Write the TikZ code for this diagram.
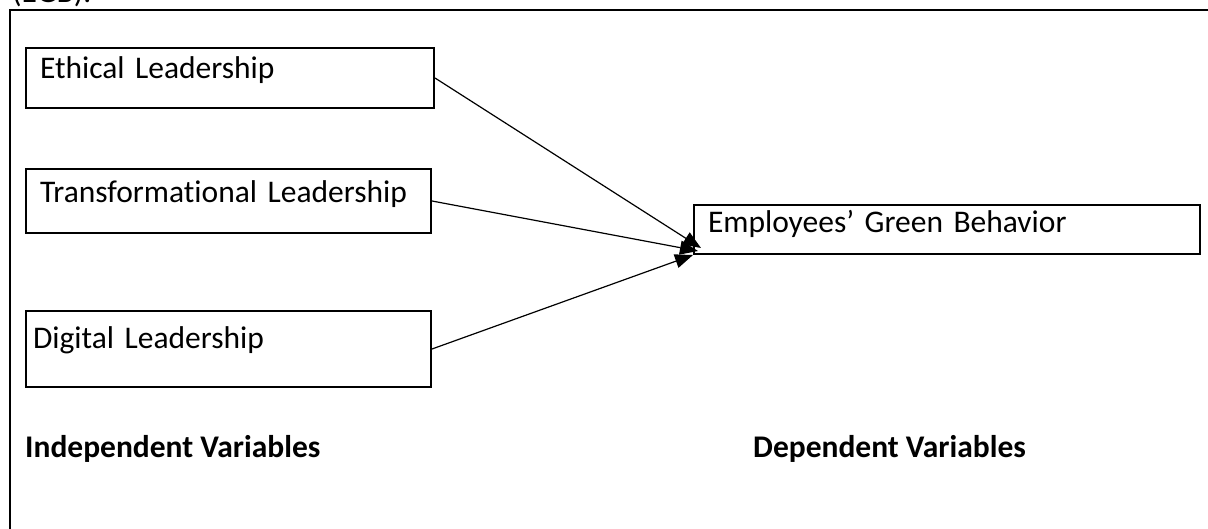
\documentclass[tikz,border=0pt]{standalone}
\usepackage{fontspec}
\setmainfont{Carlito}[Ligatures={NoCommon}]
\usetikzlibrary{arrows.meta,calc}

\begin{document}
\begin{tikzpicture}[x=1pt, y=-1pt,
	every node/.style={font=\fontsize{31.5}{38}\selectfont},
	varbox/.style={draw, line width=2pt, anchor=north west, align=left, inner ysep=0pt, inner xsep=14pt},
	link/.style={line width=1.2pt, -{Triangle[length=18pt,width=14pt]}},
	heading/.style={anchor=base west, inner sep=0pt, font=\fontsize{31.5}{38}\selectfont\bfseries}]
	\useasboundingbox (0,0) rectangle (1208,529);
	\clip (0,0) rectangle (1208,529);
	
	\node[anchor=base west, inner sep=0pt] (egbcap) at (12,3) {(EGB).};
	\draw[line width=2.5pt] (10,540) -- (10,10) -- (1220,10);
	
	\node[varbox, text width=380pt, text height=31pt, text depth=29pt] (eth) at (25,47) {Ethical Leadership};
	\node[varbox, text width=377pt, text height=34pt, text depth=30pt] (trans) at (25,168) {Transformational Leadership};
	\node[varbox, inner xsep=7pt, text width=391pt, text height=38pt, text depth=38pt] (dig) at (25,310) {Digital Leadership};
	\node[varbox, text width=478pt, text height=28pt, text depth=21pt] (egb) at (693,204) {Employees’ Green Behavior};
	
	\draw[link] (eth.east) -- ($(egb.south west)+(8,-7)$);
	\draw[link] (trans.east) -- ($(egb.south west)+(5,-4)$);
	\draw[link] (dig.east) -- (egb.south west);
	
	\node[heading] (indep) at (25,457) {Independent Variables};
	\node[heading] (dep) at (753,457) {Dependent Variables};
\end{tikzpicture}
\end{document}
